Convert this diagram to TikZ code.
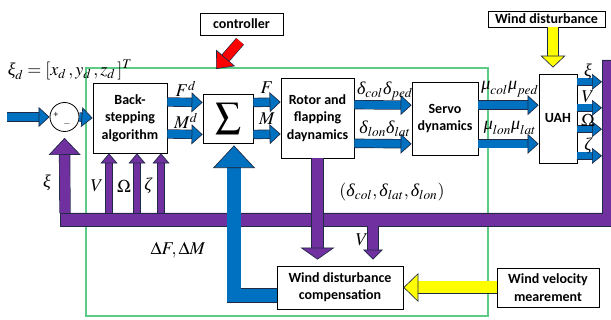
\documentclass[tikz,border=0pt]{standalone}
\usepackage{mathptmx}
\usepackage[no-math]{fontspec}
\setmainfont{Carlito}
\newfontfamily\tnr{Liberation Serif}
\newcommand{\gk}[1]{\mbox{\tnr\itshape #1}}
\usepackage{tikz}
\usetikzlibrary{arrows.meta,positioning,calc}
\definecolor{ablue}{HTML}{0070C0}
\definecolor{apurple}{HTML}{7030A0}
\definecolor{ayellow}{HTML}{FFFF00}
\definecolor{ared}{HTML}{FF0000}
\definecolor{edge}{HTML}{1F2A44}
\definecolor{frameg}{HTML}{5CCB86}

\begin{document}
\begin{tikzpicture}[
  x=0.75pt, y=-0.75pt,
  box/.style={draw, line width=0.6pt, fill=white, align=center, inner sep=1pt,
              font=\fontsize{10.5}{13}\selectfont\bfseries},
  lbl/.style={inner sep=0pt, font=\fontsize{13.5}{15}\selectfont},
  blk/.style n args={4}{line width=#2, draw=#1, line join=miter,
     -{Triangle[width=#3, length=#4, line width=0.5pt, color=edge, fill=#1]},
     preaction={draw=edge, line width=#2+1pt, shorten >=#4-1pt, -}},
  barr/.style={blk={ablue}{6pt}{15pt}{8.25pt}},
  oarr/.style={blk={ablue}{5pt}{12pt}{7.5pt}},
  bigb/.style={blk={ablue}{10pt}{31.5pt}{17pt}},
  parr/.style={blk={apurple}{4.5pt}{12.75pt}{7.5pt}},
  bigp/.style={blk={apurple}{7.5pt}{24pt}{12.75pt}},
  pdown/.style={blk={apurple}{8.25pt}{25.5pt}{9pt}},
  vdown/.style={blk={apurple}{7.5pt}{15pt}{7.5pt}},
  yarr/.style={blk={ayellow}{9pt}{21.75pt}{11.25pt}},
  ydown/.style={blk={ayellow}{7.5pt}{18.75pt}{9pt}},
  rarr/.style={blk={ared}{6.75pt}{18.75pt}{11pt}}
]
\useasboundingbox (0,0) rectangle (611,320);

% controller frame
\node[draw=frameg, line width=0.8pt, minimum width=301.5pt, minimum height=186pt,
      inner sep=0pt] (frame) at (287,192) {};

% feedback bus
\filldraw[fill=apurple, draw=edge, line width=0.5pt]
  (60,213) -- (602,213) -- (602,60) -- (611,60) -- (611,226) -- (60,226) -- cycle;
\coordinate (rbar) at (602,118);

% blocks
\node[draw, circle, minimum size=21.75pt, inner sep=0pt, fill=white, line width=0.6pt] (sumj) at (64.5,117) {};
\node[inner sep=0pt, font=\scriptsize] (plus) at (56,115) {+};
\node[inner sep=0pt, font=\scriptsize] (minus) at (67,124) {$-$};
\node[box, minimum width=55.5pt, minimum height=52.5pt] (backstep) at (130,118) {Back-\\stepping\\algorithm};
\node[box, minimum width=37.5pt, minimum height=36.75pt, font=\fontsize{19}{21}\selectfont] (sigma) at (228,118.5) {$\displaystyle\sum$};
\node[box, minimum width=54.75pt, minimum height=60pt] (rotor) at (317.5,118) {Rotor and\\flapping\\daynamics};
\node[box, minimum width=49.5pt, minimum height=54.75pt] (servo) at (445,118.5) {Servo\\dynamics};
\node[box, minimum width=28.5pt, minimum height=66.75pt] (uah) at (558,118.5) {UAH};
\node[box, minimum width=94.5pt, minimum height=32.25pt] (comp) at (340,287.5) {Wind disturbance\\compensation};
\node[box, minimum width=76.5pt, minimum height=29.25pt] (windvel) at (548,287.5) {Wind velocity\\mearement};
\node[box, minimum width=87.75pt, minimum height=12pt] (winddist) at (546.5,19) {Wind disturbance};
\node[box, minimum width=62.25pt, minimum height=16.5pt] (ctrl) at (241.5,24) {controller};

% forward path
\coordinate (inp) at (7,117);
\draw[barr] (inp) -- (sumj.west);
\draw[barr] (sumj.east) -- (backstep.west);
\draw[barr] ([yshift=12pt]backstep.east) -- ([yshift=12pt]sigma.west);
\draw[barr] ([yshift=-12pt]backstep.east) -- ([yshift=-12pt]sigma.west);
\draw[barr] ([yshift=12pt]sigma.east) -- ([yshift=12pt]rotor.west);
\draw[barr] ([yshift=-12pt]sigma.east) -- ([yshift=-12pt]rotor.west);
\draw[barr] ([yshift=10pt]rotor.east) -- ([yshift=10pt]servo.west);
\draw[barr] ([yshift=-19pt]rotor.east) -- ([yshift=-19pt]servo.west);
\draw[barr] ([yshift=10pt]servo.east) -- ([yshift=10pt]uah.west);
\draw[barr] ([yshift=-19pt]servo.east) -- ([yshift=-19pt]uah.west);
\foreach \s/\n in {27.5pt/o1, 8pt/o2, -8pt/o3, -28pt/o4} {
  \coordinate (\n) at ([yshift=\s]uah.east);
  \draw[oarr] (\n) -- (\n -| rbar);
}

% feedback arrows
\coordinate (xi) at (65,213);
\draw[bigp] (xi) -- ($(sumj.south)+(0,6)$);
\foreach \x/\n in {109/fv, 137/fo, 161/fz} {
  \coordinate (\n) at (\x,213);
  \draw[parr] (\n) -- (\n |- backstep.south);
}

% compensation loop
\draw[pdown] (rotor.south) -- ($(rotor.south |- comp.north)+(0,-6)$);
\coordinate (vtap) at (373,226);
\draw[vdown] (vtap) -- ($(vtap |- comp.north)+(0,-6)$);
\coordinate (dfin) at ([yshift=-6pt]comp.west);
\coordinate (dtip) at ([xshift=4.5pt]sigma.south);
\draw[bigb] (dfin) -- (dfin -| dtip) -- ($(dtip)+(0,2)$);
\draw[yarr] (windvel.west) -- (comp.east);
\draw[ydown] ($(winddist.south -| uah.north)+(-5,0)$) -- ($(uah.north)+(-5,-6)$);
\coordinate (redtip) at (216,69);
\draw[rarr] ($(ctrl.south)+(-1.5,6)$) -- (redtip);

% signal labels
\node[lbl] (xid) at (70,70) {$\gk{ξ}_d=[x_d\,,y_d\,,z_d\,]^T$};
\node[lbl] (lfd) at (186,89) {$F^d$};
\node[lbl] (lmd) at (186,121) {$M^d$};
\node[lbl] (lf) at (267,88) {$F$};
\node[lbl] (lm) at (267,119) {$M$};
\node[lbl] (ld1) at (385,91) {$\gk{δ}_{col}\gk{δ}_{ped}$};
\node[lbl] (ld2) at (385,129) {$\gk{δ}_{lon}\gk{δ}_{lat}$};
\node[lbl] (lu1) at (510,89) {$\gk{μ}_{col}\gk{μ}_{ped}$};
\node[lbl] (lu2) at (510,128) {$\gk{μ}_{lon}\gk{μ}_{lat}$};
\node[lbl] (ox1) at (588,72) {$\gk{ξ}$};
\node[lbl] (ox2) at (588,97) {$V$};
\node[lbl] (ox3) at (588,120) {$\Omega$};
\node[lbl] (ox4) at (588,146) {$\gk{ζ}$};
\node[lbl] (lxi) at (47,183) {$\gk{ξ}$};
\node[lbl] (lv) at (97,186) {$V$};
\node[lbl] (lom) at (124,186) {$\Omega$};
\node[lbl] (lze) at (148,186) {$\gk{ζ}$};
\node[lbl] (ldm) at (178,250) {$\Delta F,\Delta M$};
\node[lbl] (ldcl) at (392,192) {$(\gk{δ}_{col},\gk{δ}_{lat},\gk{δ}_{lon})$};
\node[lbl] (lv2) at (362,240) {$V$};
\end{tikzpicture}
\end{document}
